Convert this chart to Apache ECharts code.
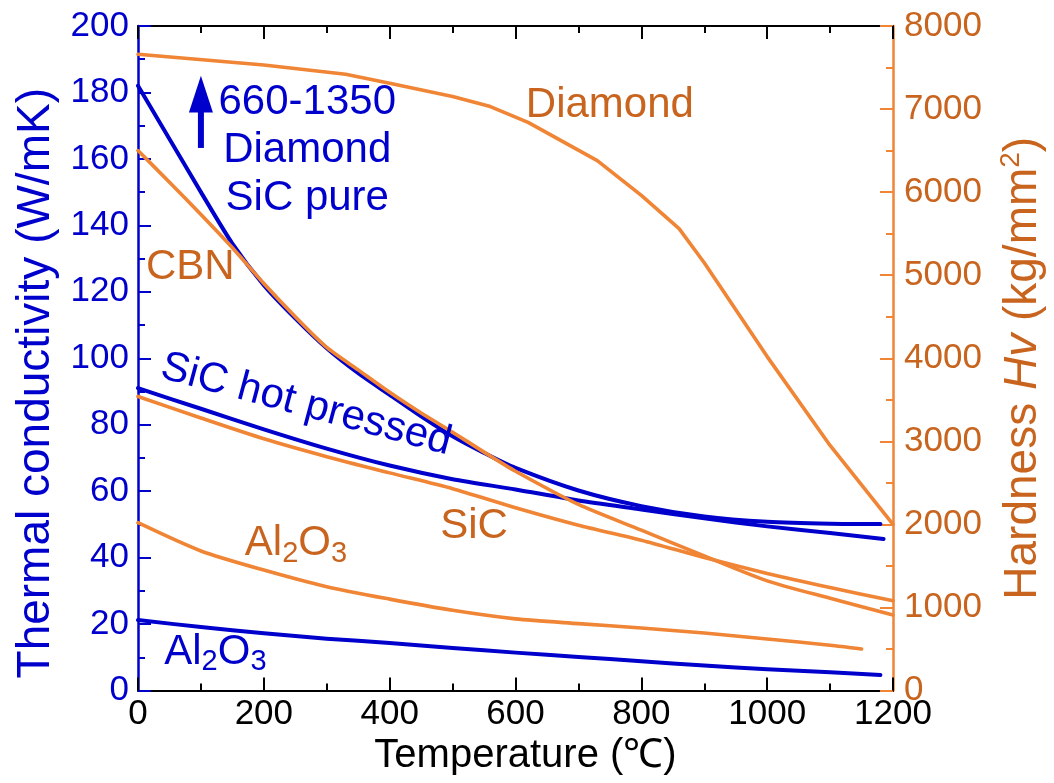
<!DOCTYPE html>
<html>
<head>
<meta charset="utf-8">
<script src="https://cdn.jsdelivr.net/npm/echarts@6/dist/echarts.min.js"></script>
<style>
  html, body { margin: 0; padding: 0; background: #fff; }
  #chart { width: 1054px; height: 783px; }
</style>
</head>
<body>
<div id="chart"></div>
<script>
// ---- Thermal conductivity (W/mK) vs temperature (°C) ----
const sicPureT = [0, 50, 100, 150, 200, 250, 300, 350, 400, 450, 500, 550, 600, 700, 800, 900, 1000, 1100, 1180];
const sicPureK = [182, 166, 150, 134.5, 122, 112, 103, 95.5, 89, 82.5, 76.5, 71.5, 67, 60.2, 55.5, 52.4, 50.8, 50.2, 50.1];

const sicHotT = [0, 100, 200, 300, 400, 500, 600, 700, 800, 900, 1000, 1100, 1185];
const sicHotK = [91, 84.8, 78.6, 72.8, 67.7, 63.6, 60.5, 57.2, 54.5, 51.8, 49.4, 47.4, 45.6];

const al2o3T = [0, 100, 200, 300, 400, 500, 600, 700, 800, 900, 1000, 1100, 1180];
const al2o3K = [21.2, 19.1, 17.2, 15.6, 14.3, 12.8, 11.4, 10.1, 8.8, 7.5, 6.4, 5.5, 4.7];

// ---- Hardness Hv (kg/mm2) vs temperature (°C) ----
const diamondT = [0, 200, 330, 400, 500, 560, 620, 730, 800, 860, 900, 1000, 1100, 1200];
const diamondH = [7660, 7530, 7420, 7310, 7150, 7030, 6840, 6380, 5960, 5560, 5150, 4020, 2950, 2000];

const cbnT = [0, 50, 100, 150, 200, 250, 300, 350, 400, 450, 500, 550, 600, 700, 800, 900, 1000, 1100, 1200];
const cbnH = [6500, 6120, 5730, 5330, 4900, 4500, 4130, 3860, 3590, 3340, 3110, 2870, 2640, 2240, 1930, 1620, 1320, 1110, 910];

const sicT = [0, 100, 200, 300, 400, 500, 600, 700, 800, 900, 1000, 1100, 1200];
const sicH = [3540, 3280, 3030, 2815, 2620, 2430, 2200, 1990, 1810, 1600, 1410, 1240, 1080];

const al2o3HT = [0, 100, 200, 300, 400, 500, 600, 700, 800, 900, 1000, 1100, 1150];
const al2o3H = [2020, 1680, 1450, 1250, 1100, 965, 862, 805, 752, 692, 620, 545, 500];

// ---- Axis ticks ----
const tempTicks = { min: 0, max: 1200, interval: 200 };
const condTicks = { min: 0, max: 200, interval: 20 };
const hardTicks = { min: 0, max: 8000, interval: 1000 };

const BLUE = '#0000cc';
const ORANGE = '#ef8535';
const ORANGE_TEXT = '#c8641e';
const FONT = '"Liberation Sans", Arial, Helvetica, sans-serif';

const pairs = (xs, ys) => xs.map((x, i) => [x, ys[i]]);
const plain = (v) => String(v);

const chart = echarts.init(document.getElementById('chart'), null, { renderer: 'canvas' });

function lineSeries(name, xs, ys, color, width, yAxisIndex, smooth) {
  return {
    name, type: 'line', yAxisIndex,
    data: pairs(xs, ys),
    showSymbol: false, symbol: 'none',
    smooth: smooth,
    lineStyle: { color, width, cap: 'round', join: 'round' },
    emphasis: { disabled: true },
    animation: false
  };
}

const tickCommon = (color) => ({
  axisTick: { show: true, inside: true, length: 13, lineStyle: { color, width: 2 } },
  minorTick: { show: true, splitNumber: 2, length: 7, lineStyle: { color, width: 2 } },
  splitLine: { show: false },
  minorSplitLine: { show: false }
});

chart.setOption({
  animation: false,
  backgroundColor: '#ffffff',
  grid: { left: 138, right: 147, top: 26, bottom: 92.5, containLabel: false },
  xAxis: [
    Object.assign({
      type: 'value', position: 'bottom',
      min: tempTicks.min, max: tempTicks.max, interval: tempTicks.interval,
      axisLine: { show: true, onZero: false, lineStyle: { color: '#000', width: 2 } },
      axisLabel: { color: '#000', fontSize: 35, fontFamily: FONT, margin: 6, formatter: plain },
      name: 'Temperature (℃)', nameLocation: 'middle', nameGap: 44,
      nameTextStyle: { color: '#000', fontSize: 40, fontFamily: FONT, padding: [0, 0, 0, 20] }
    }, tickCommon('#000')),
    Object.assign({
      type: 'value', position: 'top',
      min: tempTicks.min, max: tempTicks.max, interval: tempTicks.interval,
      axisLine: { show: true, onZero: false, lineStyle: { color: '#000', width: 2 } },
      axisLabel: { show: false }
    }, tickCommon('#000'))
  ],
  yAxis: [
    Object.assign({
      type: 'value', position: 'left',
      min: condTicks.min, max: condTicks.max, interval: condTicks.interval,
      axisLine: { show: true, onZero: false, lineStyle: { color: BLUE, width: 2.5 } },
      axisLabel: { color: BLUE, fontSize: 35, fontFamily: FONT, margin: 9, formatter: plain },
      name: 'Thermal conductivity (W/mK)', nameLocation: 'middle', nameGap: 76, nameRotate: 90,
      nameTextStyle: { color: BLUE, fontSize: 46, fontFamily: FONT, padding: [0, 50, 0, 0] }
    }, tickCommon(BLUE)),
    Object.assign({
      type: 'value', position: 'right',
      min: hardTicks.min, max: hardTicks.max, interval: hardTicks.interval,
      axisLine: { show: true, onZero: false, lineStyle: { color: ORANGE, width: 2.5 } },
      axisLabel: { color: ORANGE_TEXT, fontSize: 35, fontFamily: FONT, margin: 11, formatter: plain },
      name: '{n|Hardness }{i|Hv}{n| (kg/mm}{s|2}{n|)}',
      nameLocation: 'middle', nameGap: 104, nameRotate: 90,
      nameTextStyle: {
        color: ORANGE_TEXT, fontSize: 46, fontFamily: FONT, padding: [0, 20, 0, 0],
        rich: {
          n: { color: ORANGE_TEXT, fontSize: 46, fontFamily: FONT, lineHeight: 52 },
          i: { color: ORANGE_TEXT, fontSize: 46, fontFamily: FONT, fontStyle: 'italic', lineHeight: 52 },
          s: { color: ORANGE_TEXT, fontSize: 28, fontFamily: FONT, lineHeight: 28, verticalAlign: 'top' }
        }
      }
    }, tickCommon(ORANGE))
  ],
  series: [
    lineSeries('SiC pure', sicPureT, sicPureK, BLUE, 4, 0, 0.25),
    lineSeries('SiC hot pressed', sicHotT, sicHotK, BLUE, 4, 0, 0.25),
    lineSeries('Al2O3 conductivity', al2o3T, al2o3K, BLUE, 4, 0, 0.25),
    lineSeries('Diamond hardness', diamondT, diamondH, ORANGE, 3.6, 1, false),
    lineSeries('CBN hardness', cbnT, cbnH, ORANGE, 3.6, 1, 0.25),
    lineSeries('SiC hardness', sicT, sicH, ORANGE, 3.6, 1, 0.25),
    lineSeries('Al2O3 hardness', al2o3HT, al2o3H, ORANGE, 3.6, 1, 0.25)
  ]
});

// ---- Curve labels, placed in (temperature, conductivity) coordinates ----
const subRich = (color) => ({
  a: { color, fontSize: 42, fontFamily: FONT, lineHeight: 50 },
  b: { color, fontSize: 29, fontFamily: FONT, lineHeight: 29, verticalAlign: 'bottom' }
});

const labels = [
  { at: [269, 162.5], text: '660-1350\nDiamond\nSiC pure', color: BLUE, lineHeight: 48 },
  { at: [83, 127.2], text: 'CBN', color: ORANGE_TEXT },
  { at: [750, 176], text: 'Diamond', color: ORANGE_TEXT },
  { at: [534, 49.5], text: 'SiC', color: ORANGE_TEXT },
  { at: [251, 44.2], text: '{a|Al}{b|2}{a|O}{b|3}', color: ORANGE_TEXT, rich: true },
  { at: [123, 11.6], text: '{a|Al}{b|2}{a|O}{b|3}', color: BLUE, rich: true },
  { at: [267, 86], text: 'SiC hot pressed', color: BLUE, rotate: -15 }
];

const toPx = (p) => chart.convertToPixel({ xAxisIndex: 0, yAxisIndex: 0 }, p);

const graphics = labels.map((l) => {
  const [x, y] = toPx(l.at);
  const style = {
    text: l.text,
    fill: l.color,
    font: '42px ' + FONT,
    fontSize: 42,
    fontFamily: FONT,
    align: 'center', verticalAlign: 'middle',
    textAlign: 'center', textVerticalAlign: 'middle'
  };
  if (l.lineHeight) style.lineHeight = l.lineHeight;
  if (l.rich) style.rich = subRich(l.color);
  return {
    type: 'text', x, y, z: 100,
    rotation: (l.rotate || 0) * Math.PI / 180,
    silent: true, style
  };
});

// Upward arrow marking the 660-1350 range
const arrowX = 100;
const tip = toPx([arrowX, 185]);
const headBase = toPx([arrowX, 174]);
const tail = toPx([arrowX, 163.3]);
graphics.push({
  type: 'polyline', z: 100, silent: true,
  shape: { points: [[tail[0], tail[1]], [headBase[0], headBase[1] - 6]] },
  style: { stroke: BLUE, lineWidth: 6, fill: null }
});
graphics.push({
  type: 'polygon', z: 101, silent: true,
  shape: { points: [[tip[0], tip[1]], [headBase[0] - 12, headBase[1]], [headBase[0] + 12, headBase[1]]] },
  style: { fill: BLUE, stroke: null }
});

chart.setOption({ graphic: { elements: graphics } });
</script>
</body>
</html>
